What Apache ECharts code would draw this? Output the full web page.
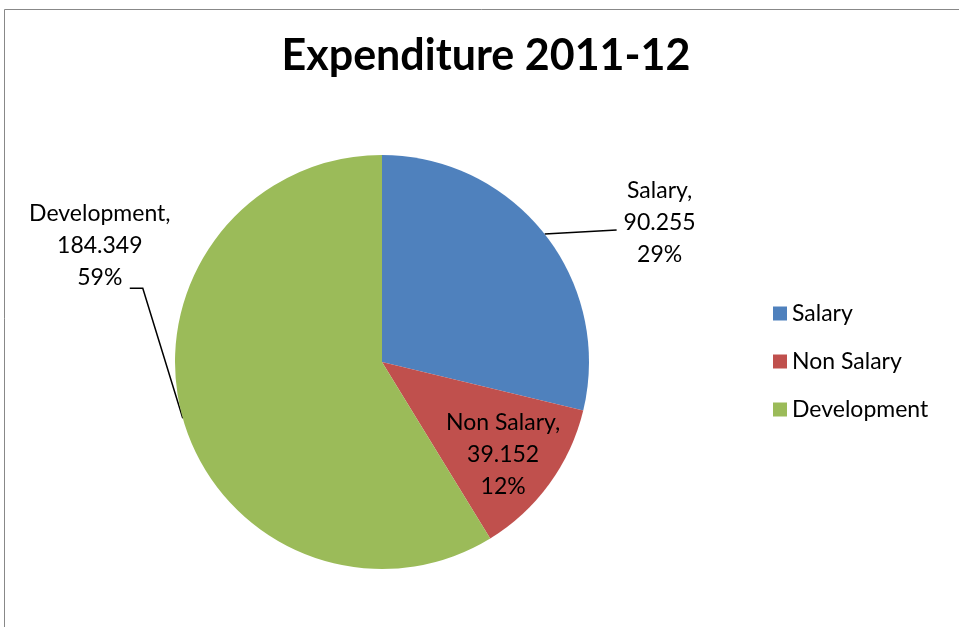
<!DOCTYPE html>
<html>
<head>
<meta charset="utf-8">
<script src="https://cdn.jsdelivr.net/npm/echarts@6/dist/echarts.min.js"></script>
<style>
html, body { margin: 0; padding: 0; background: #fff; }
#main { width: 959px; height: 627px; }
</style>
</head>
<body>
<div id="main"></div>
<script>
// data
var categories = ['Salary', 'Non Salary', 'Development'];
var values = [90.255, 39.152, 184.349];
var colors = ['#4F81BD', '#C0504D', '#9BBB59'];

var font = 'Lato, "Open Sans", sans-serif';

var chart = echarts.init(document.getElementById('main'), null, { renderer: 'canvas' });

var pieData = categories.map(function (name, i) {
  var item = { name: name, value: values[i], itemStyle: { color: colors[i] } };
  if (name === 'Non Salary') {
    item.label = { position: 'inside' };
    item.labelLine = { show: false };
  }
  return item;
});

// move labels to where the original puts them (offsets from the slice edge point)
function labelLayout(params) {
  var p = params.labelLinePoints;
  if (params.dataIndex === 0 && p) {
    var s = p[0];
    return {
      x: s[0] + 115, y: s[1] - 11, align: 'center', verticalAlign: 'middle',
      labelLinePoints: [s, [s[0] + 36, s[1] - 2], [s[0] + 72, s[1] - 4]]
    };
  }
  if (params.dataIndex === 2 && p) {
    var d = p[0];
    return {
      x: d[0] - 83, y: d[1] - 173, align: 'center', verticalAlign: 'middle',
      labelLinePoints: [d, [d[0] - 40, d[1] - 130], [d[0] - 53, d[1] - 130]]
    };
  }
  if (params.dataIndex === 1) {
    return { dx: 35, dy: 30 };
  }
}

var option = {
  backgroundColor: '#fff',
  animation: false,
  title: {
    text: 'Expenditure 2011-12',
    left: 481,
    top: 30,
    textAlign: 'center',
    textStyle: { fontFamily: font, fontWeight: 'bold', fontSize: 43, color: '#000' }
  },
  legend: {
    orient: 'vertical',
    left: 773,
    top: 302,
    padding: 0,
    icon: 'rect',
    itemWidth: 14,
    itemHeight: 14,
    itemGap: 25,
    data: categories,
    textStyle: { fontFamily: font, fontSize: 23, color: '#000' }
  },
  graphic: [
    { type: 'line', shape: { x1: 4.5, y1: 9.5, x2: 959, y2: 9.5 }, style: { stroke: '#888', lineWidth: 1 } },
    { type: 'line', shape: { x1: 4.5, y1: 9.5, x2: 4.5, y2: 627 }, style: { stroke: '#888', lineWidth: 1 } }
  ],
  series: [{
    type: 'pie',
    center: [382, 362],
    radius: 207,
    startAngle: 90,
    clockwise: true,
    percentPrecision: 0,
    data: pieData,
    label: {
      show: true,
      formatter: '{b},\n{c}\n{d}%',
      fontFamily: font,
      fontSize: 23,
      lineHeight: 32,
      color: '#000',
      align: 'center',
      overflow: 'none'
    },
    labelLine: {
      show: true,
      length: 10,
      length2: 20,
      lineStyle: { color: '#000', width: 1.5 }
    },
    labelLayout: labelLayout,
    emphasis: { disabled: true }
  }]
};

chart.setOption(option);
</script>
</body>
</html>
